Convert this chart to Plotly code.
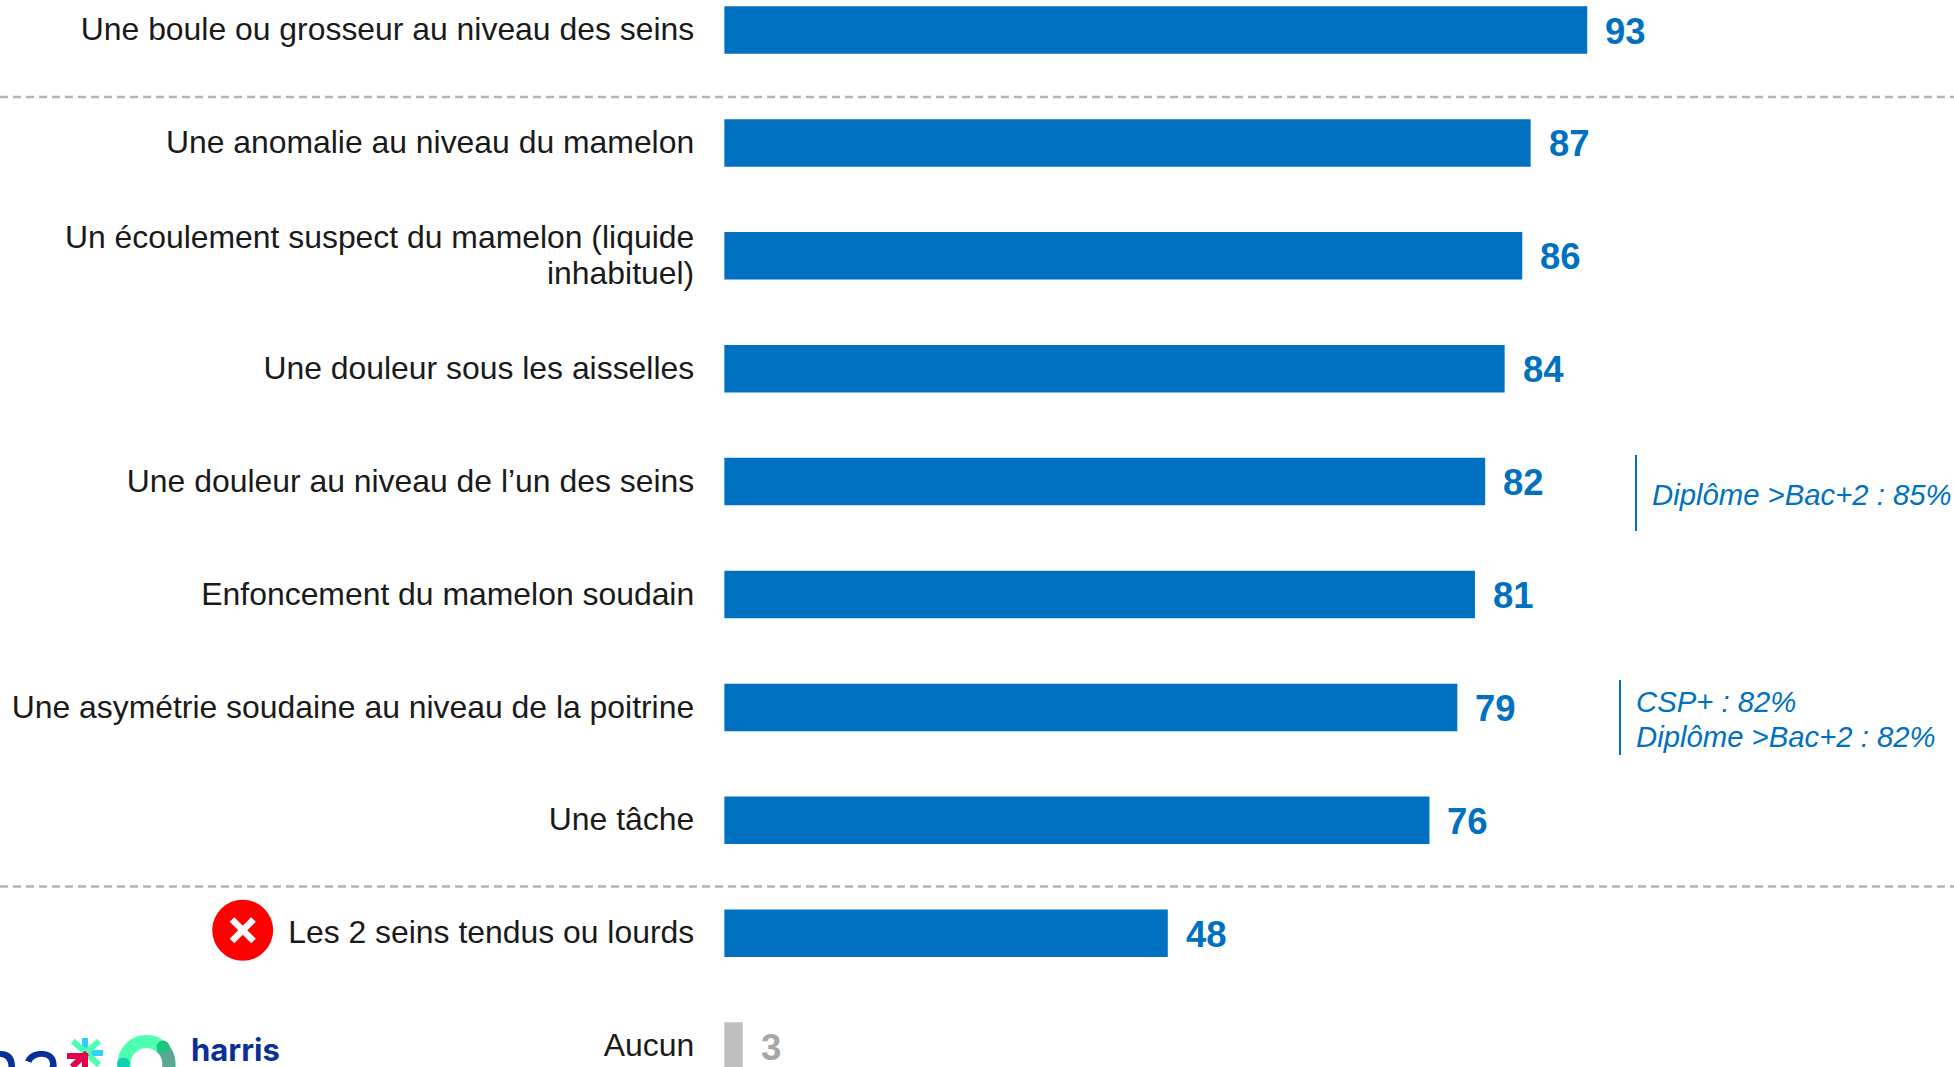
import math
import plotly.graph_objects as go

W, H = 1954, 1067
BLUE = "#0070C0"
GREY = "#BFBFBF"
NAVY = "#0A2F96"
FONT = "Liberation Sans"

categories = [
    "Une boule ou grosseur au niveau des seins",
    "Une anomalie au niveau du mamelon",
    "Un écoulement suspect du mamelon (liquide|inhabituel)",
    "Une douleur sous les aisselles",
    "Une douleur au niveau de l’un des seins",
    "Enfoncement du mamelon soudain",
    "Une asymétrie soudaine au niveau de la poitrine",
    "Une tâche",
    "Les 2 seins tendus ou lourds",
    "Aucun",
]
values = [93, 86.9, 86, 84.1, 82, 80.9, 79, 76, 47.8, 2]
labels = ["93", "87", "86", "84", "82", "81", "79", "76", "48", "3"]
bar_colors = [BLUE] * 9 + [GREY]
label_colors = [BLUE] * 9 + ["#A6A6A6"]
positions = list(range(len(categories)))

X0 = 724.2
PX_PER_UNIT = 9.28
PITCH = 112.9
Y0 = 30.0
LINE_STEP = 36.0


def fx(p):
    return p / W


def fy(p):
    return 1 - p / H


# tick labels: wrapped labels get one tick per line so their line spacing can be set
tickvals, ticktext = [], []
for p, c in zip(positions, categories):
    parts = c.split("|")
    for i, part in enumerate(parts):
        tickvals.append(p + ((i - (len(parts) - 1) / 2) * LINE_STEP - 1) / PITCH)
        ticktext.append(part)

fig = go.Figure(
    go.Bar(
        y=positions,
        x=values,
        orientation="h",
        width=47.5 / PITCH,
        marker=dict(color=bar_colors, line=dict(width=0)),
        hoverinfo="skip",
    )
)

annotations = []
for p, v, t, c in zip(positions, values, labels, label_colors):
    annotations.append(
        dict(
            x=v, y=p, xref="x", yref="y", text=f"<b>{t}</b>", showarrow=False,
            xanchor="left", yanchor="middle", xshift=16, yshift=-1, align="left",
            font=dict(family=FONT, size=36.5, color=c),
        )
    )


def note(x, y, text, family=FONT, size=29.3, color=BLUE, anchor="left"):
    annotations.append(
        dict(
            x=fx(x), y=fy(y), xref="paper", yref="paper", text=text, showarrow=False,
            xanchor=anchor, yanchor="middle", align="left",
            font=dict(family=family, size=size, color=color),
        )
    )


note(1649.5, 494, "<i>Diplôme &gt;Bac+2 : 85%</i>")
note(1633.5, 701, "<i>CSP+ : 82%</i>")
note(1633.5, 736, "<i>Diplôme &gt;Bac+2 : 82%</i>")

# logo fragments, cut by the bottom edge as in the reference
note(64, 1065, "na", family="Inter", size=74, color=NAVY, anchor="right")
note(189, 1049, "<b>harris</b>", family="Inter", size=31, color=NAVY)
note(189, 1085, "<b>interactive</b>", family="Inter", size=31, color=NAVY)


def seg(a, b, color, width):
    return dict(type="line", xref="paper", yref="paper", x0=fx(a[0]), y0=fy(a[1]), x1=fx(b[0]), y1=fy(b[1]),
                line=dict(color=color, width=width))


def disc(cx, cy, r, color):
    return dict(type="circle", xref="paper", yref="paper", x0=fx(cx - r), x1=fx(cx + r), y0=fy(cy - r),
                y1=fy(cy + r), fillcolor=color, line=dict(width=0))


shapes = []
for y in (97, 886.5):
    shapes.append(dict(type="line", xref="paper", yref="paper", x0=0, x1=1, y0=fy(y), y1=fy(y),
                       line=dict(color="#B4B4B4", width=2.5, dash="8px,5px")))
shapes.append(seg((1636, 455), (1636, 531), BLUE, 2))
shapes.append(seg((1620, 680), (1620, 755), BLUE, 2))

# red cross icon
shapes.append(disc(242.7, 930.2, 30.5, "#FF0000"))
shapes.append(seg((232, 919.5), (253.5, 941), "white", 6.5))
shapes.append(seg((253.5, 919.5), (232, 941), "white", 6.5))

# logo ring
shapes.append(dict(type="circle", xref="paper", yref="paper", x0=fx(124), x1=fx(169), y0=fy(1041.5), y1=fy(1086.5),
                   fillcolor="rgba(0,0,0,0)", line=dict(color="#4DFFB0", width=13)))
arc = [(146.5 + 22.5 * math.cos(math.radians(a)), 1064 + 22.5 * math.sin(math.radians(a))) for a in range(-50, 60, 10)]
path = "M " + " L ".join(f"{fx(x):.5f},{fy(y):.5f}" for x, y in arc)
shapes.append(dict(type="path", xref="paper", yref="paper", path=path, line=dict(color="#5BA892", width=13)))
shapes.append(disc(163, 1047, 6.5, "#1FC47F"))
shapes.append(disc(123.5, 1064, 6.5, "#0FD0B0"))

# logo asterisk
shapes.append(seg((85, 1038), (85, 1053), "#2FD0FF", 6))
shapes.append(seg((87, 1053), (103, 1053), "#2FD0FF", 6))
shapes.append(seg((73, 1041), (99, 1065), "#4DFFB0", 6))
shapes.append(seg((99, 1041), (73, 1065), "#4DFFB0", 6))
shapes.append(seg((67, 1056), (87, 1056), "#E5004F", 6))
shapes.append(seg((87, 1053), (72, 1067), "#E5004F", 6))
shapes.append(seg((85, 1053), (85, 1067), "#E5004F", 6))

fig.update_layout(
    width=W, height=H,
    margin=dict(l=0, r=0, t=0, b=0),
    paper_bgcolor="white", plot_bgcolor="white",
    showlegend=False,
    annotations=annotations,
    shapes=shapes,
    xaxis=dict(domain=[X0 / W, 1], range=[0, (W - X0) / PX_PER_UNIT], visible=False, fixedrange=True),
    yaxis=dict(
        range=[(H - Y0) / PITCH, -Y0 / PITCH],
        anchor="x",
        tickmode="array",
        tickvals=tickvals,
        ticktext=ticktext,
        ticks="",
        showgrid=False,
        zeroline=False,
        showline=False,
        ticklabelstandoff=29,
        tickfont=dict(family=FONT, size=31.9, color="#1A1A1A"),
        automargin=False,
    ),
)

fig.write_html(
    "out.html",
    config=dict(displayModeBar=False),
    post_script="document.body.style.margin='0';document.documentElement.style.overflow='hidden';",
)
